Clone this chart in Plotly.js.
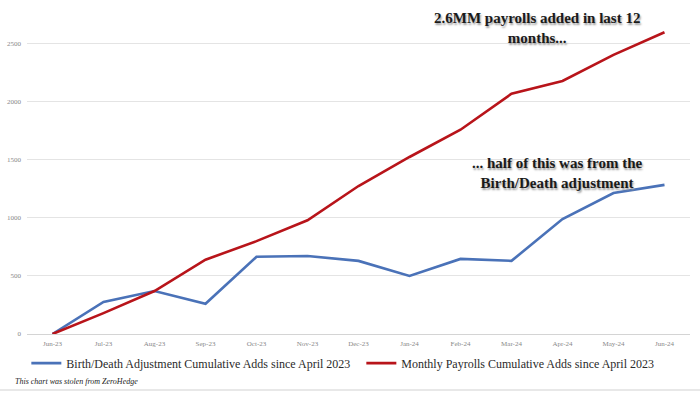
<!DOCTYPE html>
<html><head><meta charset="utf-8">
<script src="https://cdn.plot.ly/plotly-3.0.1.min.js"></script>
<style>html,body{margin:0;padding:0;background:#fff;}#chart{width:700px;height:394px;}</style>
</head><body><div id="chart"></div>
<script>
const months = ["Jun-23","Jul-23","Aug-23","Sep-23","Oct-23","Nov-23","Dec-23","Jan-24","Feb-24","Mar-24","Apr-24","May-24","Jun-24"];
const birthDeath = [0, 276, 370, 260, 665, 672, 630, 500, 647, 630, 990, 1215, 1285];
const payrolls = [0, 180, 370, 640, 800, 980, 1275, 1525, 1760, 2070, 2180, 2405, 2600];
const yTicks = [0, 500, 1000, 1500, 2000, 2500];

const serif = "Liberation Serif, DejaVu Serif, serif";
const traces = [
  {x: months, y: birthDeath, type: "scatter", mode: "lines", name: "Birth/Death Adjustment Cumulative Adds since April 2023",
   line: {color: "#4a72b8", width: 2.6}},
  {x: months, y: payrolls, type: "scatter", mode: "lines", name: "Monthly Payrolls Cumulative Adds since April 2023",
   line: {color: "#b8141a", width: 2.6}}
];
const layout = {
  width: 700, height: 394,
  margin: {l: 26.5, r: 9.5, t: 9, b: 60, autoexpand: false},
  paper_bgcolor: "#fff", plot_bgcolor: "#fff",
  showlegend: true,
  legend: {orientation: "h", x: -0.001, xanchor: "left", y: -0.045, yanchor: "top",
           font: {family: serif, size: 12, color: "#2a2a2a"}, itemwidth: 30,
           entrywidth: 290, entrywidthmode: "pixels", tracegroupgap: 0, bgcolor: "rgba(0,0,0,0)"},
  xaxis: {type: "category", range: [-0.5, 12.5], tickvals: months, ticktext: months, showgrid: false, zeroline: false,
          showline: false, ticks: "", ticklabelstandoff: 4, tickfont: {family: serif, size: 7, color: "#888"}},
  yaxis: {range: [0, 2800], tickvals: yTicks, ticktext: yTicks.map(String), showgrid: true,
          gridcolor: "#e4e4e4", gridwidth: 1, zeroline: true, zerolinecolor: "#d4d4d4", zerolinewidth: 1,
          ticks: "", tickfont: {family: serif, size: 7, color: "#888"}, ticklabelstandoff: 5},
  annotations: [
    {text: "<b>2.6MM payrolls added in last 12<br>months...</b>", xref: "paper", yref: "paper",
     x: 0.769, y: 1.003, xanchor: "center", yanchor: "top", showarrow: false, align: "center",
     font: {family: serif, size: 15, color: "#1a1a1a", shadow: "1px 2px 2px #999"}},
    {text: "<b>... half of this was from the<br>Birth/Death adjustment</b>", xref: "paper", yref: "paper",
     x: 0.80, y: 0.558, xanchor: "center", yanchor: "top", showarrow: false, align: "center",
     font: {family: serif, size: 15, color: "#1a1a1a", shadow: "1px 2px 2px #999"}},
    {text: "<i>This chart was stolen from ZeroHedge</i>", xref: "paper", yref: "paper",
     x: -0.0218, y: -0.145, xanchor: "left", yanchor: "middle", showarrow: false,
     font: {family: serif, size: 8, color: "#222"}}
  ],
  shapes: [
    {type: "line", xref: "paper", yref: "paper", x0: -0.05, x1: 1.02, y0: -0.172, y1: -0.172,
     line: {color: "#e0e0e0", width: 1.5}, layer: "below"}
  ]
};
Plotly.newPlot("chart", traces, layout, {displayModeBar: false, staticPlot: true});
</script></body></html>
